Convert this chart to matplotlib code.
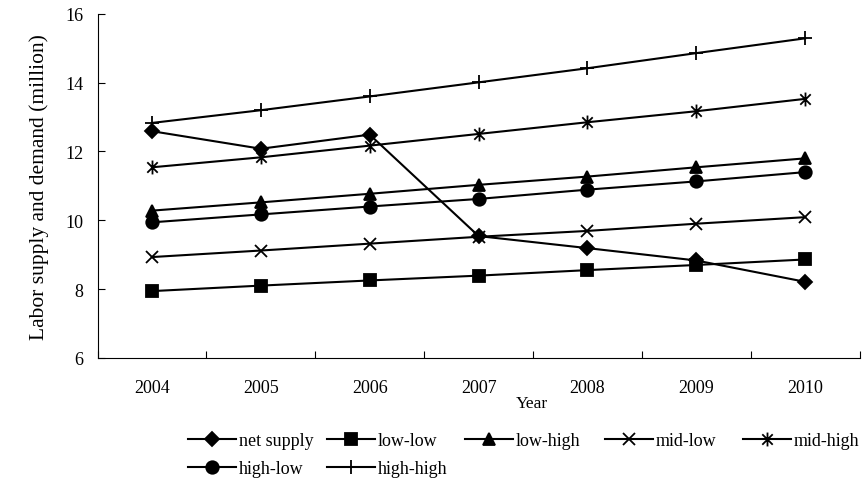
import matplotlib
matplotlib.use("Agg")
import matplotlib.pyplot as plt
from matplotlib.path import Path
import numpy as np

plt.rcParams["font.family"] = ["Liberation Serif", "DejaVu Serif"]

years = ["2004", "2005", "2006", "2007", "2008", "2009", "2010"]
net_supply = [12.59, 12.08, 12.49, 9.54, 9.19, 8.83, 8.21]
low_low = [7.94, 8.10, 8.25, 8.39, 8.55, 8.70, 8.86]
low_high = [10.28, 10.52, 10.77, 11.03, 11.27, 11.54, 11.80]
mid_low = [8.93, 9.12, 9.32, 9.52, 9.69, 9.90, 10.09]
mid_high = [11.54, 11.83, 12.17, 12.51, 12.85, 13.17, 13.53]
high_low = [9.94, 10.17, 10.40, 10.62, 10.89, 11.13, 11.40]
high_high = [12.83, 13.20, 13.60, 14.01, 14.42, 14.86, 15.29]

# asterisk: vertical bar + X
ASTER = Path([(0, -1), (0, 1), (-0.75, -0.75), (0.75, 0.75), (-0.75, 0.75), (0.75, -0.75)],
             [Path.MOVETO, Path.LINETO, Path.MOVETO, Path.LINETO, Path.MOVETO, Path.LINETO])

series = [
    ("net supply", net_supply, "D", 7.2),
    ("low-low", low_low, "s", 9),
    ("low-high", low_high, "^", 9),
    ("mid-low", mid_low, "x", 8.5),
    ("mid-high", mid_high, ASTER, 10),
    ("high-low", high_low, "o", 9),
    ("high-high", high_high, "+", 9.5),
]

fig = plt.figure(figsize=(8.67, 4.81), dpi=100)
ax = fig.add_axes([0.1125, 0.254, 0.879, 0.715])
x = np.arange(len(years))
handles = {}
for name, vals, mk, ms in series:
    h, = ax.plot(x, vals, color="black", linewidth=1.5, marker=mk, markersize=ms,
                 markerfacecolor="black", markeredgecolor="black", markeredgewidth=1.3,
                 label=name)
    handles[name] = h

ax.set_xlim(-0.5, len(years) - 0.5)
ax.set_ylim(6, 16)
ax.set_yticks([6, 8, 10, 12, 14, 16])
ax.set_xticks(np.arange(len(years) + 1) - 0.5)
ax.set_xticklabels([])
ax.set_xticks(x, minor=True)
ax.set_xticklabels(years, minor=True)
ax.tick_params(axis="x", which="major", direction="in", length=5, color="black")
ax.tick_params(axis="x", which="minor", length=0, pad=15, labelsize=13)
ax.tick_params(axis="y", direction="in", length=5, pad=10, labelsize=13)
for s in ["top", "right"]:
    ax.spines[s].set_visible(False)

ax.set_ylabel("Labor supply and demand (million)", fontsize=15.5, labelpad=12)
fig.text(0.614, 0.16, "Year", fontsize=12.5, ha="center", va="center")

# legend laid out like Excel: equal-width columns, filled row by row
legend_cols = [["net supply", "high-low"], ["low-low", "high-high"],
               ["low-high"], ["mid-low"], ["mid-high"]]
col_x = [188, 327, 465, 605, 743]
for names, px in zip(legend_cols, col_x):
    fig.legend([handles[n] for n in names], names, frameon=False, fontsize=13,
               loc="upper left", bbox_to_anchor=(px / 867, 0.1), handlelength=2.65,
               handletextpad=0.15, labelspacing=0.62, borderpad=0, borderaxespad=0)

fig.savefig("out.png", dpi=100)
